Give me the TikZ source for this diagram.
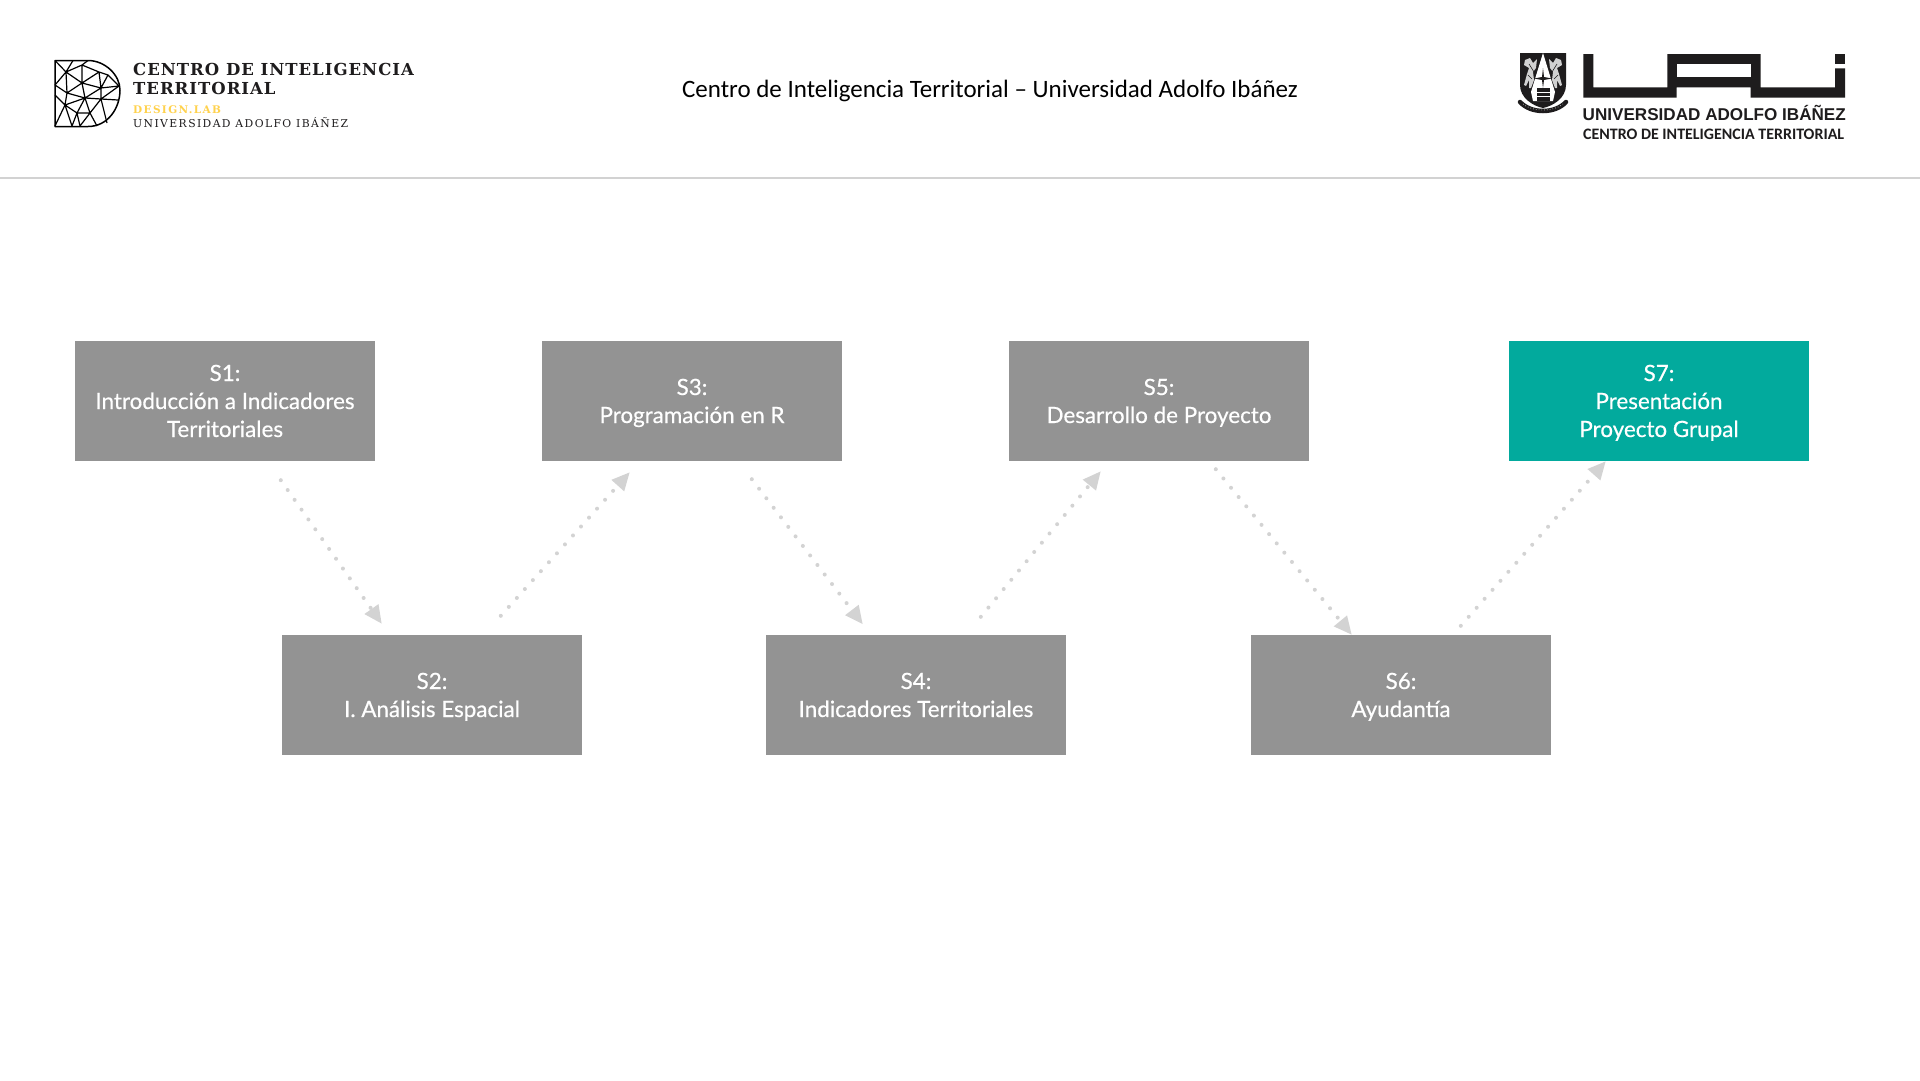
\documentclass[tikz,border=0pt]{standalone}
\usepackage{fontspec}
\usetikzlibrary{arrows.meta}
\setmainfont[FakeBold=0.5]{Lato}
\newfontfamily\carlitofont{Carlito}
\newfontfamily\slabfont[LetterSpace=6]{DejaVu Serif}
\newfontfamily\slabwide[LetterSpace=13]{DejaVu Serif}
\newfontfamily\arialfont{Liberation Sans}
\definecolor{boxgrey}{HTML}{939393}
\definecolor{boxteal}{HTML}{02AA9D}
\definecolor{flowgrey}{HTML}{D3D3D3}
\definecolor{ruleg}{HTML}{D2D2D2}
\definecolor{labyellow}{HTML}{FFD24D}
\definecolor{uaiblack}{HTML}{1E1C1D}
\newcommand\lnstrut{\rule[-6pt]{0pt}{28pt}}
\tikzset{
  sbox/.style={rectangle,fill=boxgrey,text=white,minimum width=300pt,minimum height=120pt,inner sep=0pt,align=center,font=\fontsize{22.4}{28}\selectfont},
  flow/.style={flowgrey,line width=4pt,line cap=round,dash pattern=on 0pt off 12pt,-{Triangle[length=18pt,width=16pt]}},
  logotext/.style={anchor=base west,inner sep=0pt,text=uaiblack},
  mesh/.style={black,line width=1.5pt,line join=round},
}
\begin{document}
\begin{tikzpicture}[x=1pt,y=-1pt]
\useasboundingbox[fill=white] (0,0) rectangle (1920,1080);
\draw[ruleg,line width=2pt] (0,178) -- (1920,178);
% boxes
\node[sbox] (s1) at (225,401) {\lnstrut S1:\\\lnstrut Introducción a Indicadores\\\lnstrut Territoriales};
\node[sbox] (s2) at (432,695) {\lnstrut S2:\\\lnstrut I. Análisis Espacial};
\node[sbox] (s3) at (692,401) {\lnstrut S3:\\\lnstrut Programación en R};
\node[sbox] (s4) at (916,695) {\lnstrut S4:\\\lnstrut Indicadores Territoriales};
\node[sbox] (s5) at (1159,401) {\lnstrut S5:\\\lnstrut Desarrollo de Proyecto};
\node[sbox] (s6) at (1401,695) {\lnstrut S6:\\\lnstrut Ayudantía};
\node[sbox,fill=boxteal] (s7) at (1659,401) {\lnstrut S7:\\\lnstrut Presentación\\\lnstrut Proyecto Grupal};
% connectors
\draw[flow] ([shift={(206,19)}]s1.south west) -- ([shift={(100,-11)}]s2.north west);
\draw[flow] ([shift={(219,-19)}]s2.north west) -- ([shift={(88,11)}]s3.south west);
\draw[flow] ([shift={(210,18)}]s3.south west) -- ([shift={(97,-10.5)}]s4.north west);
\draw[flow] ([shift={(215,-18)}]s4.north west) -- ([shift={(92,10)}]s5.south west);
\draw[flow] ([shift={(207,8)}]s5.south west) -- ([shift={(101,0)}]s6.north west);
\draw[flow] ([shift={(210,-9)}]s6.north west) -- ([shift={(97,0)}]s7.south west);
% title
\node[anchor=base,inner sep=0pt,text=black,font=\carlitofont\fontsize{25}{28}\selectfont] (title) at (990,97.5) {Centro de Inteligencia Territorial – Universidad Adolfo Ibáñez};
% left logo: mesh D
\draw[mesh] (55,60.5) -- (88,60.5) .. controls (105,60.5) and (120,75) .. (120,90) .. controls (120,108) and (108,126.5) .. (88,126.5) -- (55,126.5) -- cycle;
\draw[mesh,line width=1.2pt]
 (55,60.5) -- (66,72) -- (82,65) -- (99,72) -- (108,75) -- (119,86)
 (66,72) -- (55,85) (66,72) -- (82,83) -- (82,65) (82,65) -- (88,60.5) (66,72) -- (73,60.5)
 (99,72) -- (82,83) (99,72) -- (101,88) -- (82,83) (108,75) -- (101,88) -- (119,86)
 (66,72) -- (67,93) (55,85) -- (67,93) -- (82,83) -- (85,98) -- (67,93)
 (85,98) -- (101,88) (85,98) -- (101,99) -- (119,86) (101,88) -- (101,99)
 (67,93) -- (65,105) -- (55,95) (65,105) -- (85,98) (65,105) -- (55,126) (65,105) -- (72,126) -- (77,113) -- (65,105)
 (85,98) -- (77,113) -- (90,113) -- (85,98) (90,113) -- (101,99) -- (118,100) (90,113) -- (97,126) (90,113) -- (80,126) (77,113) -- (80,126) (101,99) -- (107,123);
% left logo: text
\node[logotext,font=\slabfont\bfseries\fontsize{16.5}{18}\selectfont] (lt1) at (133,75.5) {CENTRO DE INTELIGENCIA};
\node[logotext,font=\slabfont\bfseries\fontsize{16.5}{18}\selectfont] (lt2) at (133,94.5) {TERRITORIAL};
\node[logotext,text=labyellow,font=\slabwide\bfseries\fontsize{10.5}{12}\selectfont] (lt3) at (133,113) {DESIGN.LAB};
\node[logotext,font=\slabwide\fontsize{10.8}{12}\selectfont] (lt4) at (133,127) {UNIVERSIDAD ADOLFO IBÁÑEZ};
% right logo: UAI letters
\fill[uaiblack] (1583.3,54) -- (1593.3,54) -- (1593.3,87.3) -- (1667.3,87.3) -- (1667.3,54) -- (1760.7,54) -- (1760.7,87.3) -- (1835,87.3) -- (1835,68.3) -- (1845,68.3) -- (1845,97.7) -- (1750.7,97.7) -- (1750.7,87.3) -- (1676.7,87.3) -- (1676.7,97.7) -- (1583.3,97.7) -- cycle;
\fill[white] (1676.7,64) rectangle (1750.7,77);
\fill[uaiblack] (1835,54) rectangle (1845,64);
\node[logotext,font=\arialfont\bfseries\fontsize{17.1}{20}\selectfont] (ut1) at (1582.5,120.5) {UNIVERSIDAD ADOLFO IBÁÑEZ};
\node[logotext,font=\carlitofont\bfseries\fontsize{15.95}{18}\selectfont] (ut2) at (1583,139) {CENTRO DE INTELIGENCIA TERRITORIAL};
% right logo: crest
\fill[uaiblack] (1520,53) -- (1566,53) -- (1566,85) .. controls (1566,98) and (1553,106) .. (1543,108) .. controls (1533,106) and (1520,98) .. (1520,85) -- cycle;
\fill[white] (1543,53) -- (1531,92) -- (1533,101) -- (1553,101) -- (1555,92) -- cycle;
\foreach \mir in {1,-1}{
  \begin{scope}[shift={(1543,0)},xscale=\mir]
    \fill[black!18] (-18,60) -- (-13,58) -- (-10,63) -- (-6,59) -- (-7,68) -- (-10,72) -- (-9,80) -- (-12,88) -- (-14,88) -- (-14,80) -- (-17,86) -- (-19,85) -- (-16,74) -- (-14,68) -- (-19,65) -- cycle;
    \draw[uaiblack,line width=.6pt] (-14,64) -- (-9,72) (-15,75) -- (-11,79);
  \end{scope}
}
\fill[uaiblack] (1543,68) -- (1544,77) -- (1552,78.5) -- (1544,80) -- (1543,88) -- (1542,80) -- (1534,78.5) -- (1542,77) -- cycle;
\fill[uaiblack] (1537,88) rectangle (1550,101);
\draw[white,line width=.7pt] (1537,92) -- (1550,92) (1537,96) -- (1550,96);
\draw[uaiblack,line width=4.5pt,line cap=round] (1520,102) .. controls (1531,114) and (1555,114) .. (1566,102);
\draw[black!35,line width=.8pt,dotted] (1523,104) .. controls (1532,112) and (1554,112) .. (1563,104);
\end{tikzpicture}
\end{document}
